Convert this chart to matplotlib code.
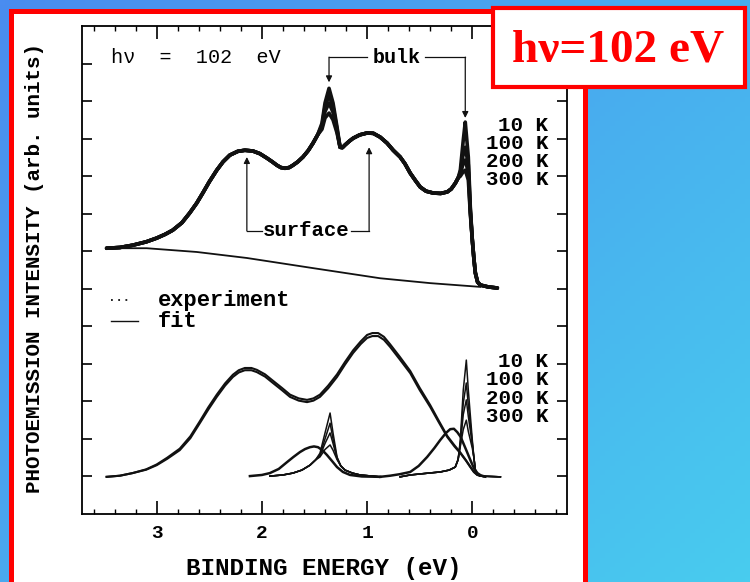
import numpy as np
import matplotlib.pyplot as plt
from matplotlib.patches import Rectangle

temps = ["10 K", "100 K", "200 K", "300 K"]

# upper spectra (measured), everything except the two sharp peaks
up_E = [3.476, 3.35, 3.229, 3.10, 3.000, 2.92, 2.848, 2.76, 2.686, 2.62,
        2.562, 2.50, 2.429, 2.37, 2.305, 2.23, 2.162, 2.086, 2.02, 1.952,
        1.90, 1.857, 1.82, 1.781, 1.74, 1.705, 1.66, 1.610, 1.56, 1.514, 1.47,
        1.257, 1.235, 1.210, 1.17, 1.133, 1.07, 1.000, 0.94, 0.876, 0.81,
        0.752, 0.686, 0.64, 0.590, 0.54, 0.495, 0.44, 0.371, 0.30, 0.238,
        0.20, 0.162, 0.135,
        0.000, -0.015, -0.029, -0.05, -0.076, -0.15, -0.238]
up_I = [7.08, 7.10, 7.16, 7.25, 7.35, 7.45, 7.56, 7.76, 8.02, 8.28,
        8.55, 8.85, 9.16, 9.38, 9.56, 9.66, 9.69, 9.67, 9.60, 9.48,
        9.38, 9.29, 9.23, 9.21, 9.23, 9.29, 9.38, 9.51, 9.68, 9.88, 10.10,
        9.77, 9.76, 9.83, 9.93, 10.01, 10.10, 10.15, 10.14, 10.04, 9.88,
        9.69, 9.51, 9.33, 9.08, 8.88, 8.71, 8.60, 8.55, 8.54, 8.58,
        8.66, 8.81, 8.95,
        7.30, 6.80, 6.42, 6.18, 6.10, 6.05, 6.02]

# bulk peak near 1.36 eV, one row per temperature
up_bulk_E = [1.429, 1.400, 1.362, 1.324, 1.286]
up_bulk_I = [[10.41, 10.95, 11.34, 10.95, 10.31],
             [10.35, 10.85, 11.16, 10.85, 10.25],
             [10.30, 10.72, 10.95, 10.70, 10.20],
             [10.25, 10.55, 10.68, 10.50, 10.15]]

# peak at the Fermi level
up_ef_E = [0.114, 0.086, 0.067, 0.038, 0.019]
up_ef_I = [[9.16, 9.96, 10.44, 9.51, 8.18],
           [9.10, 9.60, 9.77, 9.30, 8.10],
           [9.05, 9.35, 9.43, 9.10, 8.05],
           [9.00, 9.12, 9.16, 8.90, 8.00]]

# inelastic background under the upper spectra
bg_E = [3.476, 3.095, 2.619, 2.143, 1.514, 0.876, 0.400, -0.076]
bg_I = [7.08, 7.08, 6.98, 6.82, 6.55, 6.28, 6.15, 6.05]

# lower panel: fit components
sf_E = [3.476, 3.35, 3.229, 3.10, 3.000, 2.90, 2.781, 2.68, 2.590, 2.51,
        2.429, 2.35, 2.276, 2.22, 2.162, 2.10, 2.048, 1.97, 1.895, 1.81,
        1.733, 1.65, 1.571, 1.51, 1.448, 1.37, 1.286, 1.21, 1.133, 1.06,
        1.000, 0.95, 0.895, 0.84, 0.781, 0.69, 0.590, 0.50, 0.400, 0.32,
        0.238, 0.17, 0.114, 0.06, 0.019, -0.015, -0.048, -0.124]
sf_I = [0.99, 1.02, 1.09, 1.18, 1.30, 1.47, 1.70, 2.02, 2.42, 2.78,
        3.12, 3.42, 3.65, 3.77, 3.83, 3.83, 3.78, 3.66, 3.49, 3.30,
        3.12, 3.02, 2.98, 3.02, 3.12, 3.35, 3.65, 3.98, 4.29, 4.53,
        4.69, 4.74, 4.74, 4.64, 4.45, 4.12, 3.75, 3.30, 2.85, 2.45,
        2.05, 1.80, 1.62, 1.42, 1.25, 1.12, 1.04, 0.99]
sf_I_hot = [0.99, 1.02, 1.09, 1.19, 1.32, 1.50, 1.74, 2.07, 2.47, 2.84,
            3.18, 3.48, 3.71, 3.83, 3.89, 3.89, 3.84, 3.72, 3.55, 3.36,
            3.18, 3.08, 3.04, 3.08, 3.18, 3.42, 3.72, 4.05, 4.36, 4.60,
            4.77, 4.82, 4.82, 4.72, 4.52, 4.19, 3.81, 3.36, 2.90, 2.49,
            2.08, 1.83, 1.64, 1.43, 1.26, 1.12, 1.04, 0.99]

h1_E = [2.114, 2.00, 1.924, 1.84, 1.762, 1.70, 1.638, 1.59, 1.543, 1.505,
        1.467, 1.425, 1.381, 1.33, 1.286, 1.23, 1.162, 1.05, 0.876]
h1_I = [1.01, 1.04, 1.09, 1.20, 1.38, 1.52, 1.65, 1.73, 1.78, 1.80,
        1.78, 1.70, 1.57, 1.40, 1.25, 1.12, 1.04, 1.00, 0.99]

lb_base_E = [1.924, 1.80, 1.705, 1.62, 1.543, 1.49,
             1.25, 1.210, 1.14, 1.067, 0.876]
lb_base_I = [1.01, 1.04, 1.09, 1.17, 1.30, 1.44,
             1.28, 1.17, 1.09, 1.04, 0.99]
lb_E = [1.448, 1.400, 1.352, 1.324, 1.286]
lb_I = [[1.62, 2.16, 2.69, 2.16, 1.52],
        [1.58, 2.00, 2.42, 2.00, 1.50],
        [1.55, 1.88, 2.16, 1.88, 1.48],
        [1.52, 1.72, 1.84, 1.70, 1.45]]

fh_E = [0.876, 0.781, 0.69, 0.590, 0.51, 0.429, 0.36, 0.305, 0.25, 0.210,
        0.175, 0.143, 0.11, 0.086, 0.05, 0.019, -0.015, -0.048, -0.08, -0.105]
fh_I = [0.99, 1.02, 1.06, 1.12, 1.28, 1.52, 1.76, 1.97, 2.16, 2.26,
        2.27, 2.18, 2.05, 1.89, 1.65, 1.44, 1.22, 1.09, 1.03, 1.01]

lf_base_E = [0.686, 0.590, 0.45, 0.305, 0.22, 0.162, 0.135,
             -0.015, -0.029, -0.05, -0.076, -0.267]
lf_base_I = [0.99, 1.04, 1.08, 1.12, 1.17, 1.25, 1.45,
             1.50, 1.17, 1.05, 1.01, 0.99]
lf_E = [0.114, 0.086, 0.057, 0.038, 0.000]
lf_I = [[1.97, 3.30, 4.10, 3.30, 1.97],
        [1.90, 2.95, 3.49, 2.90, 1.90],
        [1.85, 2.65, 3.04, 2.60, 1.85],
        [1.80, 2.25, 2.50, 2.20, 1.75]]

bulk_peaks = [1.362, 0.067]
surface_peaks = [2.143, 0.981]


def join(*parts):
    E = np.concatenate([p[0] for p in parts])
    I = np.concatenate([p[1] for p in parts])
    order = np.argsort(-E)
    return E[order], I[order]


W, H = 750, 582
fig = plt.figure(figsize=(7.5, 5.82), dpi=100)

# blue gradient backdrop
bg = fig.add_axes([0, 0, 1, 1], zorder=-10)
yy, xx = np.mgrid[0:1:120j, 0:1:150j]
t = np.clip(0.55 * xx + 0.45 * yy, 0, 1)[..., None]
c0 = np.array([74, 140, 240]) / 255
c1 = np.array([72, 204, 238]) / 255
bg.imshow(c0 * (1 - t) + c1 * t, aspect="auto", extent=[0, 1, 0, 1])
bg.axis("off")


def frect(x0, y0, x1, y1, **kw):
    return Rectangle((x0 / W, 1 - y1 / H), (x1 - x0) / W, (y1 - y0) / H,
                     transform=fig.transFigure, **kw)


fig.add_artist(frect(10.5, 10.5, 584.5, 620, facecolor="white",
                     edgecolor="#ff0000", lw=3.6, zorder=-5))

ax = fig.add_axes([82 / W, 1 - 514 / H, 485 / W, 488 / H])
ax.set_facecolor("none")
ink = "#111111"
mono = "Liberation Mono"

for k in range(4):
    E, I = join((up_E, up_I), (up_bulk_E, up_bulk_I[k]), (up_ef_E, up_ef_I[k]))
    ax.plot(E, I, color=ink, lw=2.6, solid_capstyle="round", solid_joinstyle="round")
ax.plot(bg_E, bg_I, color=ink, lw=1.3)

ax.plot(sf_E, sf_I, color=ink, lw=1.5, solid_joinstyle="round")
ax.plot(sf_E, sf_I_hot, color=ink, lw=1.5, solid_joinstyle="round")
ax.plot(h1_E, h1_I, color=ink, lw=1.8, solid_joinstyle="round")
ax.plot(fh_E, fh_I, color=ink, lw=1.8, solid_joinstyle="round")
for k in range(4):
    E, I = join((lb_base_E, lb_base_I), (lb_E, lb_I[k]))
    ax.plot(E, I, color=ink, lw=1.1)
    E, I = join((lf_base_E, lf_base_I), (lf_E, lf_I[k]))
    ax.plot(E, I, color=ink, lw=1.1)

ax.set_xlim(3.71, -0.90)
ax.set_ylim(0, 13)
ax.set_xticks([3, 2, 1, 0])
ax.set_xticks(np.arange(-0.8, 3.71, 0.2), minor=True)
ax.set_yticks(range(1, 13))
ax.set_yticklabels([])
ax.tick_params(axis="x", which="major", direction="in", top=True, length=9.5,
               width=1.2, pad=8, labelsize=14)
ax.tick_params(axis="x", which="minor", direction="in", top=True, length=3.8, width=1.0)
ax.tick_params(axis="y", direction="in", right=True, length=7, width=1.2)
for lab in ax.get_xticklabels():
    lab.set_fontfamily(mono)
    lab.set_fontweight("bold")
for s in ax.spines.values():
    s.set_linewidth(1.3)

ax.text(3.43, 12.17, "h\u03bd  =  102  eV", family=mono, fontsize=14.5,
        ha="left", va="center")

# bulk / surface markers
arr = dict(arrowstyle="-|>", lw=0.9, color=ink, mutation_scale=9, shrinkA=0, shrinkB=0)
ax.text(0.724, 12.17, "bulk", family=mono, fontweight="bold", fontsize=14.4,
        ha="center", va="center")
ax.plot([bulk_peaks[0], 1.00], [12.17, 12.17], color=ink, lw=0.9)
ax.plot([0.45, bulk_peaks[1]], [12.17, 12.17], color=ink, lw=0.9)
ax.annotate("", xy=(bulk_peaks[0], 11.50), xytext=(bulk_peaks[0], 12.17), arrowprops=arr)
ax.annotate("", xy=(bulk_peaks[1], 10.55), xytext=(bulk_peaks[1], 12.17), arrowprops=arr)

ax.text(1.581, 7.54, "surface", family=mono, fontweight="bold", fontsize=14.9,
        ha="center", va="center")
ax.plot([surface_peaks[0], 2.00], [7.54, 7.54], color=ink, lw=0.9)
ax.plot([1.15, surface_peaks[1]], [7.54, 7.54], color=ink, lw=0.9)
ax.annotate("", xy=(surface_peaks[0], 9.51), xytext=(surface_peaks[0], 7.54), arrowprops=arr)
ax.annotate("", xy=(surface_peaks[1], 9.77), xytext=(surface_peaks[1], 7.54), arrowprops=arr)

for k, lab in enumerate(temps):
    ax.text(-0.724, 10.36 - 0.48 * k, lab, family=mono, fontweight="bold",
            fontsize=15, ha="right", va="center")
    ax.text(-0.724, 4.05 - 0.48 * k, lab, family=mono, fontweight="bold",
            fontsize=15, ha="right", va="center")

# legend
ax.plot([3.43, 3.24], [5.70, 5.70], color=ink, lw=1.3, ls=(0, (1, 3)))
ax.plot([3.43, 3.18], [5.14, 5.14], color=ink, lw=1.0)
ax.text(2.99, 5.70, "experiment", family=mono, fontweight="bold", fontsize=15.8,
        ha="left", va="center")
ax.text(2.99, 5.14, "fit", family=mono, fontweight="bold", fontsize=15.8,
        ha="left", va="center")

fig.text(35 / W, 1 - 268 / H, "PHOTOEMISSION INTENSITY (arb. units)", family=mono,
         fontweight="bold", fontsize=15, rotation=90, ha="center", va="center")
fig.text(324 / W, 1 - 569 / H, "BINDING ENERGY (eV)", family=mono,
         fontweight="bold", fontsize=17.5, ha="center", va="center")

# title box
fig.add_artist(frect(493, 8, 745, 87, facecolor="white", edgecolor="#ff0000",
                     lw=3, zorder=5))
fig.text(618 / W, 1 - 50 / H, "h\u03bd=102 eV", family="Liberation Serif",
         fontweight="bold", fontsize=34, color="#ff0000", ha="center",
         va="center", zorder=6)

fig.savefig("out.png", dpi=100)
